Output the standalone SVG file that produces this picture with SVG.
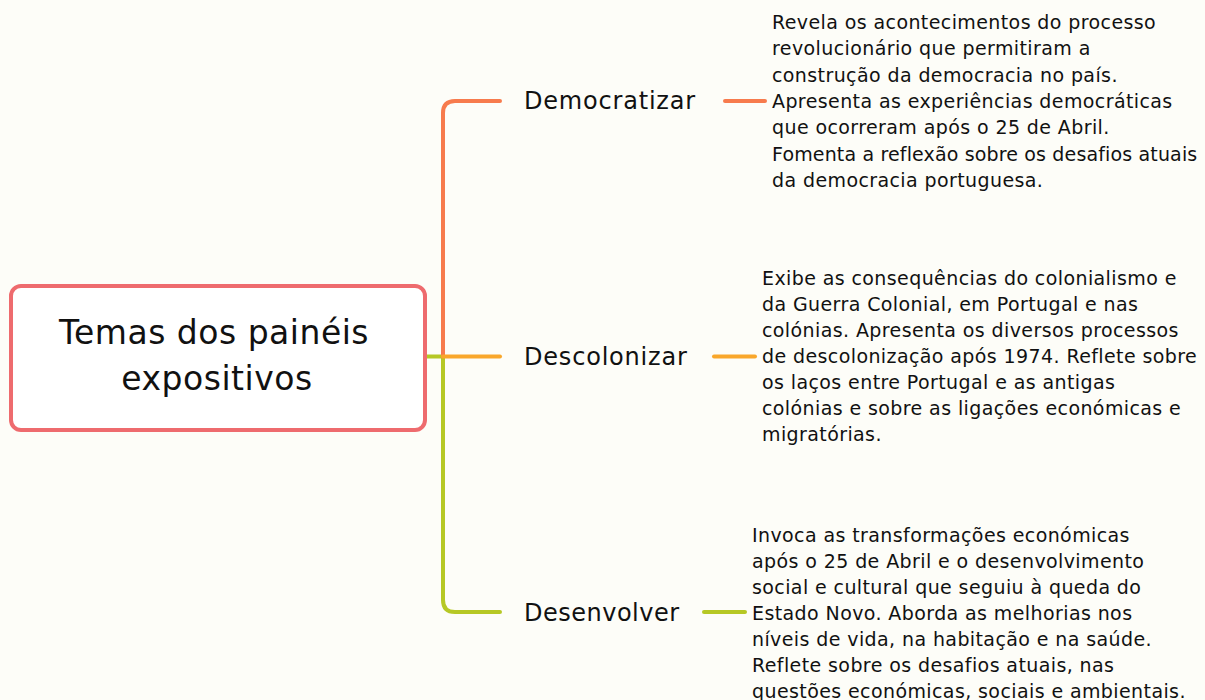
<svg xmlns="http://www.w3.org/2000/svg" width="1205" height="700" viewBox="0 0 1205 700">
<style>
text{font-family:"DejaVu Sans","Liberation Sans",sans-serif;fill:#111;}
.root{font-size:33px;letter-spacing:0.5px;}
.lbl{font-size:24px;letter-spacing:0.8px;}
.desc{font-size:19px;letter-spacing:0.4px;}
.tight{letter-spacing:0.15px;}
.c{fill:none;stroke-width:4;stroke-linecap:round;stroke-linejoin:round;}
.red{stroke:#f77b4d;}
.org{stroke:#f9a72b;}
.grn{stroke:#b6c825;}
</style>
<rect width="1205" height="700" fill="#fdfdf8"/>
<g id="connectors">
<path class="c grn" d="M427 356.5H443V600Q443 612 455 612H500"/>
<path class="c red" d="M443 356.5V113Q443 101 455 101H500"/>
<path class="c org" d="M443 356.5H500"/>
<path class="c red" d="M725 101H765"/>
<path class="c org" d="M714 356.5H755"/>
<path class="c grn" d="M704 612H745"/>
</g>
<g id="root">
<rect x="11" y="286" width="414" height="144" rx="10" fill="#fff" stroke="#ee6b6e" stroke-width="4"/>
<text class="root" x="214" y="344" text-anchor="middle">Temas dos painéis</text>
<text class="root" x="217" y="390" text-anchor="middle">expositivos</text>
</g>
<g id="democratizar">
<text class="lbl" x="524" y="109">Democratizar</text>
</g>
<g id="descolonizar">
<text class="lbl" x="524" y="365">Descolonizar</text>
</g>
<g id="desenvolver">
<text class="lbl" x="524" y="621" style="letter-spacing:0.5px">Desenvolver</text>
</g>
<g id="desc-democratizar">
<text class="desc" x="772" y="29">Revela os acontecimentos do processo</text>
<text class="desc" x="772" y="55.3">revolucionário que permitiram a</text>
<text class="desc" x="772" y="81.6">construção da democracia no país.</text>
<text class="desc" x="772" y="107.9">Apresenta as experiências democráticas</text>
<text class="desc" x="772" y="134.2">que ocorreram após o 25 de Abril.</text>
<text class="desc tight" x="772" y="160.5">Fomenta a reflexão sobre os desafios atuais</text>
<text class="desc" x="772" y="186.8">da democracia portuguesa.</text>
</g>
<g id="desc-descolonizar">
<text class="desc" x="762" y="285">Exibe as consequências do colonialismo e</text>
<text class="desc" x="762" y="311">da Guerra Colonial, em Portugal e nas</text>
<text class="desc" x="762" y="337">colónias. Apresenta os diversos processos</text>
<text class="desc" x="762" y="363">de descolonização após 1974. Reflete sobre</text>
<text class="desc" x="762" y="389">os laços entre Portugal e as antigas</text>
<text class="desc" x="762" y="415">colónias e sobre as ligações económicas e</text>
<text class="desc" x="762" y="441">migratórias.</text>
</g>
<g id="desc-desenvolver">
<text class="desc" x="752" y="541.5">Invoca as transformações económicas</text>
<text class="desc" x="752" y="567.5">após o 25 de Abril e o desenvolvimento</text>
<text class="desc" x="752" y="593.5">social e cultural que seguiu à queda do</text>
<text class="desc" x="752" y="619.5">Estado Novo. Aborda as melhorias nos</text>
<text class="desc" x="752" y="645.5">níveis de vida, na habitação e na saúde.</text>
<text class="desc" x="752" y="671.5">Reflete sobre os desafios atuais, nas</text>
<text class="desc" x="752" y="697.5">questões económicas, sociais e ambientais.</text>
</g>
</svg>
